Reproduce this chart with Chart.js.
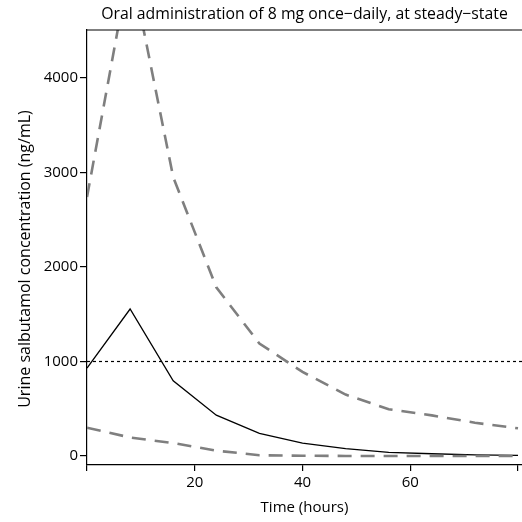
<!DOCTYPE html>
<html>
<head>
<meta charset="utf-8">
<script src="https://cdn.jsdelivr.net/npm/chart.js@4.4.0/dist/chart.umd.min.js"></script>
<style>
  body { margin: 0; background: #fff; }
</style>
</head>
<body>
<canvas id="pkChart" width="522" height="522"></canvas>
<script>
const chartTitle = "Oral administration of 8 mg once\u2212daily, at steady\u2212state";
const xTitle = "Time (hours)";
const yTitle = "Urine salbutamol concentration (ng/mL)";

// time points (hours)
const timeHours = [0, 8, 16, 24, 32, 40, 48, 56, 64, 72, 80];
// median urine concentration (ng/mL)
const medianConc = [930, 1555, 795, 432, 240, 136, 78, 38, 24, 12, 7];
// upper and lower bounds (dashed)
const upperConc = [2740, 5220, 2950, 1785, 1190, 890, 650, 495, 430, 352, 293];
const lowerConc = [300, 196, 137, 57, 8, 3, 1, 0, 0, 0, 0];
// threshold line
const thresholdConc = 1000;

const xRange = [0, 80.74];
const yRange = [-95, 4507];
const xTicks = [0, 20, 40, 60, 80];
const xTickLabels = ["", "20", "40", "60", ""];
const yTicks = [0, 1000, 2000, 3000, 4000];

const toPoints = (xs, ys) => xs.map((x, i) => ({ x: x, y: ys[i] }));

const fontFamily = "'Open Sans', Lato, sans-serif";

// top frame line plus the title texts
const frameAndTitles = {
    id: "frameAndTitles",
    afterDraw(chart) {
        const { ctx, chartArea } = chart;
        const cx = (chartArea.left + chartArea.right) / 2;
        ctx.save();
        ctx.strokeStyle = "#000";
        ctx.lineWidth = 1.2;
        ctx.beginPath();
        ctx.moveTo(chartArea.left, chartArea.top);
        ctx.lineTo(chartArea.right, chartArea.top);
        ctx.stroke();

        ctx.fillStyle = "#000";
        ctx.textAlign = "center";
        ctx.textBaseline = "middle";
        ctx.font = "15.8px " + fontFamily;
        ctx.fillText(chartTitle, cx, 14);

        ctx.font = "15px " + fontFamily;
        ctx.fillText(xTitle, cx, 508);

        ctx.font = "16px " + fontFamily;
        ctx.translate(25, 259);
        ctx.rotate(-Math.PI / 2);
        ctx.fillText(yTitle, 0, 0);
        ctx.restore();
    }
};

const ctx = document.getElementById("pkChart").getContext("2d");
new Chart(ctx, {
    type: "line",
    data: {
        datasets: [
            {
                label: "Upper",
                data: toPoints(timeHours, upperConc),
                borderColor: "#7f7f7f",
                borderWidth: 2.6,
                borderDash: [14, 9],
                pointRadius: 0,
                tension: 0,
                fill: false
            },
            {
                label: "Lower",
                data: toPoints(timeHours, lowerConc),
                borderColor: "#7f7f7f",
                borderWidth: 2.6,
                borderDash: [14, 9],
                pointRadius: 0,
                tension: 0,
                fill: false
            },
            {
                label: "Threshold",
                data: toPoints(xRange, [thresholdConc, thresholdConc]),
                borderColor: "#000",
                borderWidth: 1.2,
                borderDash: [3, 3],
                pointRadius: 0,
                fill: false
            },
            {
                label: "Median",
                data: toPoints(timeHours, medianConc),
                borderColor: "#000",
                borderWidth: 1.3,
                pointRadius: 0,
                tension: 0,
                fill: false
            }
        ]
    },
    options: {
        responsive: false,
        animation: false,
        layout: { padding: { top: 30, right: 0, left: 0, bottom: 0 } },
        plugins: {
            legend: { display: false },
            tooltip: { enabled: false }
        },
        scales: {
            x: {
                type: "linear",
                min: xRange[0],
                max: xRange[1],
                afterBuildTicks: scale => { scale.ticks = xTicks.map(v => ({ value: v })); },
                afterFit: scale => { scale.height = 57; },
                ticks: {
                    autoSkip: false,
                    maxRotation: 0,
                    padding: 3,
                    color: "#000",
                    font: { family: fontFamily, size: 15 },
                    callback: (value, index) => xTickLabels[index]
                },
                grid: {
                    display: true,
                    drawOnChartArea: false,
                    drawTicks: true,
                    tickLength: 6,
                    tickColor: "#000",
                    lineWidth: 1.2
                },
                border: { display: true, color: "#000", width: 1.2 }
            },
            y: {
                min: yRange[0],
                max: yRange[1],
                afterBuildTicks: scale => { scale.ticks = yTicks.map(v => ({ value: v })); },
                afterFit: scale => { scale.width = 87; },
                ticks: {
                    autoSkip: false,
                    padding: 2,
                    color: "#000",
                    font: { family: fontFamily, size: 15 },
                    callback: value => String(value)
                },
                grid: {
                    display: true,
                    drawOnChartArea: false,
                    drawTicks: true,
                    tickLength: 7,
                    tickColor: "#000",
                    lineWidth: 1.2
                },
                border: { display: true, color: "#000", width: 1.2 }
            }
        }
    },
    plugins: [frameAndTitles]
});
</script>
</body>
</html>
